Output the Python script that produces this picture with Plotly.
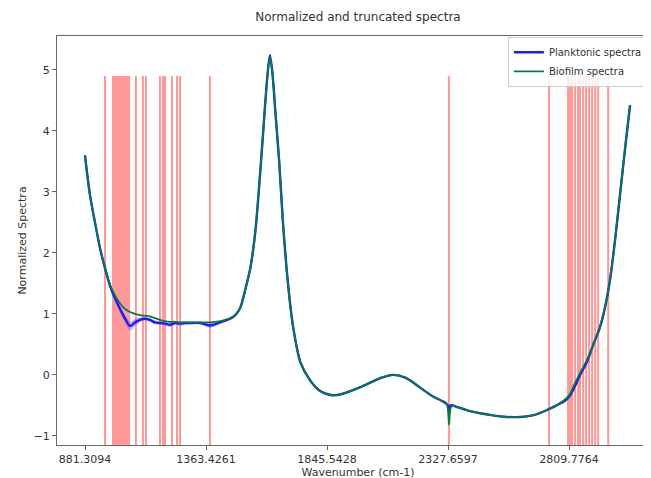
import plotly.graph_objects as go

# ---------------- data ----------------
wavenumber = [881, 901, 921, 941, 961, 981, 1001, 1021, 1041, 1061, 1081, 1100, 1120,
              1140, 1160, 1180, 1200, 1220, 1240, 1260, 1280, 1300, 1340, 1380, 1420,
              1440, 1460, 1480, 1500, 1520, 1540, 1560, 1580, 1595, 1607, 1618, 1628,
              1640, 1655, 1670, 1690, 1710, 1740, 1780, 1820, 1860, 1900, 1980, 2060,
              2110, 2160, 2220, 2270, 2300, 2320, 2327, 2332, 2337, 2345, 2360, 2420,
              2500, 2560, 2615, 2670, 2725, 2760, 2795, 2815, 2834, 2854, 2882, 2905,
              2933, 2953, 2973, 2993, 3013, 3033, 3053]

biofilm = [3.60, 2.95, 2.50, 2.08, 1.75, 1.48, 1.30, 1.17, 1.08, 1.03, 1.00, 0.98, 0.97,
           0.96, 0.93, 0.90, 0.88, 0.87, 0.87, 0.86, 0.86, 0.86, 0.86, 0.86, 0.88,
           0.90, 0.93, 0.98, 1.10, 1.40, 1.75, 2.35, 3.35, 4.20, 4.85, 5.22, 4.95,
           4.30, 3.50, 2.50, 1.50, 0.80, 0.20, -0.10, -0.27, -0.33, -0.32, -0.20, -0.05,
           0.00, -0.05, -0.22, -0.36, -0.42, -0.46, -0.55, -0.82, -0.56, -0.50, -0.52, -0.60,
           -0.66, -0.69, -0.69, -0.66, -0.57, -0.50, -0.40, -0.30, -0.13, 0.03, 0.25, 0.48,
           0.78, 1.10, 1.55, 2.20, 2.95, 3.70, 4.42]

planktonic = [3.60, 2.95, 2.50, 2.08, 1.75, 1.46, 1.25, 1.08, 0.92, 0.80, 0.86, 0.90, 0.92,
              0.90, 0.86, 0.85, 0.84, 0.82, 0.85, 0.84, 0.85, 0.85, 0.85, 0.81, 0.86,
              0.89, 0.92, 0.98, 1.10, 1.40, 1.75, 2.35, 3.35, 4.20, 4.85, 5.24, 4.95,
              4.30, 3.50, 2.50, 1.50, 0.80, 0.20, -0.10, -0.27, -0.33, -0.32, -0.20, -0.05,
              0.00, -0.05, -0.22, -0.36, -0.42, -0.47, -0.50, -0.64, -0.50, -0.50, -0.52, -0.60,
              -0.66, -0.69, -0.69, -0.66, -0.57, -0.50, -0.42, -0.33, -0.18, 0.00, 0.22, 0.48,
              0.78, 1.10, 1.55, 2.20, 2.95, 3.70, 4.42]

band_wavenumber = [1001, 1021, 1041, 1061, 1081, 1100, 1120, 1140, 1160, 1180, 1200,
                   1220, 1240, 1260, 1280, 1300, 1340, 1380, 1420]
band_low = [1.22, 1.02, 0.85, 0.72, 0.80, 0.86, 0.89, 0.87, 0.83, 0.82, 0.81,
            0.78, 0.82, 0.80, 0.82, 0.83, 0.83, 0.77, 0.84]
band_high = [1.28, 1.12, 0.98, 0.88, 0.92, 0.94, 0.95, 0.93, 0.89, 0.88, 0.87,
             0.86, 0.88, 0.88, 0.88, 0.87, 0.87, 0.85, 0.88]

selected_wavenumbers = [961, 993, 1001, 1009, 1017, 1025, 1033, 1041, 1049, 1057, 1084,
                        1112, 1124, 1180, 1192, 1200, 1228, 1248, 1260, 1379,
                        2331,
                        2730, 2806, 2814, 2822, 2834, 2846, 2854, 2866, 2878, 2890,
                        2902, 2914, 2926, 2966]
selected_top = 4.9

tick_values = [881.3094, 1363.4261, 1845.5428, 2327.6597, 2809.7764]
tick_labels = ["881.3094", "1363.4261", "1845.5428", "2327.6597", "2809.7764"]

# ---------------- figure ----------------
FONT = "DejaVu Sans"
Y0, Y1 = -1.15, 5.555

fig = go.Figure()

# red marker lines (behind the spectra)
vx, vy = [], []
for w in selected_wavenumbers:
    vx += [w, w, None]
    vy += [Y0 - 0.2, selected_top, None]
fig.add_trace(go.Scatter(x=vx, y=vy, mode="lines", showlegend=False,
                         line=dict(color="rgba(255,110,110,0.72)", width=2),
                         hoverinfo="skip"))

# planktonic variability band
fig.add_trace(go.Scatter(x=band_wavenumber, y=band_high, mode="lines",
                         line=dict(width=0, shape="spline"), showlegend=False,
                         hoverinfo="skip"))
fig.add_trace(go.Scatter(x=band_wavenumber, y=band_low, mode="lines",
                         line=dict(width=0, shape="spline"), fill="tonexty",
                         fillcolor="rgba(140,90,255,0.45)", showlegend=False,
                         hoverinfo="skip"))

fig.add_trace(go.Scatter(x=wavenumber, y=planktonic, mode="lines",
                         name="Planktonic spectra",
                         line=dict(color="rgb(30,30,235)", width=2.4,
                                   shape="spline", smoothing=0.8)))
fig.add_trace(go.Scatter(x=wavenumber, y=biofilm, mode="lines",
                         name="Biofilm spectra",
                         line=dict(color="rgb(10,120,70)", width=1.8,
                                   shape="spline", smoothing=0.8)))

axis_common = dict(showline=True, linecolor="#666", linewidth=1.2, mirror=True,
                   ticks="outside", ticklen=4, tickcolor="#666", showgrid=False,
                   zeroline=False, tickfont=dict(family=FONT, size=11, color="#333"))

# the page body adds an 8 px offset; margins compensate so the plot area
# starts at x 57, y 36 in the window and runs past the right edge (cropped)
fig.update_layout(
    width=651, height=478,
    margin=dict(l=49, r=0, t=28, b=41),
    paper_bgcolor="white", plot_bgcolor="white",
    font=dict(family=FONT, color="#333"),
    title=dict(text="Normalized and truncated spectra", x=0.5, xanchor="center",
               xref="paper", y=1 - 9 / 478, yanchor="middle",
               font=dict(family=FONT, size=12, color="#333")),
    xaxis=dict(range=[769.7, 3168.4], tickvals=tick_values, ticktext=tick_labels,
               title=dict(text="Wavenumber (cm-1)", standoff=3,
                          font=dict(family=FONT, size=11, color="#333")),
               **axis_common),
    yaxis=dict(range=[Y0, Y1], tickvals=[-1, 0, 1, 2, 3, 4, 5],
               title=dict(text="Normalized Spectra", standoff=4,
                          font=dict(family=FONT, size=11, color="#333")),
               **axis_common),
    legend=dict(x=0.749, xanchor="left", y=0.998, yanchor="top",
                traceorder="normal",
                bgcolor="rgba(255,255,255,0.85)", bordercolor="#ccc", borderwidth=1,
                font=dict(family=FONT, size=10, color="#333"),
                tracegroupgap=0, itemwidth=30),
)

fig.write_html("out.html")
